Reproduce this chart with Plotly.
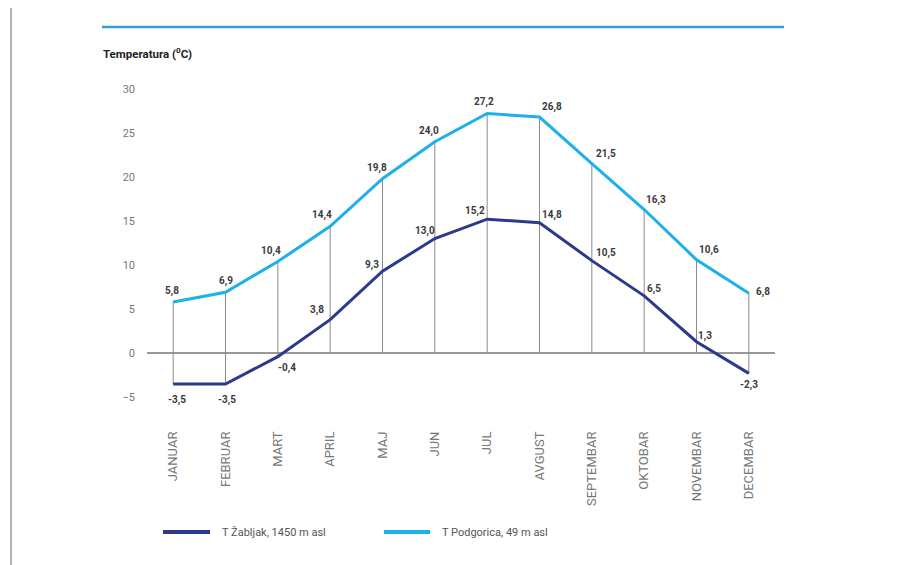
import plotly.graph_objects as go

months = ["JANUAR", "FEBRUAR", "MART", "APRIL", "MAJ", "JUN", "JUL", "AVGUST",
          "SEPTEMBAR", "OKTOBAR", "NOVEMBAR", "DECEMBAR"]
t_zabljak = [-3.5, -3.5, -0.4, 3.8, 9.3, 13.0, 15.2, 14.8, 10.5, 6.5, 1.3, -2.3]
t_podgorica = [5.8, 6.9, 10.4, 14.4, 19.8, 24.0, 27.2, 26.8, 21.5, 16.3, 10.6, 6.8]
y_ticks = [-5, 0, 5, 10, 15, 20, 25, 30]

name_zab = "T Žabljak, 1450 m asl"
name_pod = "T Podgorica, 49 m asl"

DARK = "#2B3A8C"
LIGHT = "#1DB0EA"
LBL = "#3a3a3a"
FONT = "Roboto, DejaVu Sans, sans-serif"

# page pixel -> paper coordinate helpers (plot area spans x 147..775, y 80..406 on page)
PX0, PX1, PY0, PY1 = 147, 775, 80, 406


def px(x):
    return (x - PX0) / (PX1 - PX0)


def py(y):
    return (PY1 - y) / (PY1 - PY0)


# label placement styles: (xshift, yshift, yanchor)
pod_pos = [(-1, 3, "bottom"), (0, 3, "bottom"), (-7, 3, "bottom"), (-8, 3, "bottom"),
           (-6, 3, "bottom"), (-6, 3, "bottom"), (-3, 3, "bottom"), (12, 2, "bottom"),
           (14, 2, "bottom"), (12, 2, "bottom"), (12, 2, "bottom"), (14, 1, "middle")]
zab_pos = [(4, -8, "top"), (1, -8, "top"), (9, -3, "top"), (-13, 2, "bottom"),
           (-11, -2, "bottom"), (-10, 0, "bottom"), (-12, 0, "bottom"), (12, 0, "bottom"),
           (14, 0, "bottom"), (10, -1, "bottom"), (8, -2, "bottom"), (0, -4, "top")]

fig = go.Figure()

# vertical drop lines
vx, vy = [], []
for m, p, z in zip(months, t_podgorica, t_zabljak):
    vx += [m, m, None]
    vy += [p, min(0, z), None]
fig.add_trace(go.Scatter(x=vx, y=vy, mode="lines", line=dict(color="#8a8a8a", width=1),
                         hoverinfo="skip", showlegend=False))

fig.add_trace(go.Scatter(x=months, y=t_zabljak, mode="lines", name=name_zab,
                         line=dict(color=DARK, width=3), showlegend=False))
fig.add_trace(go.Scatter(x=months, y=t_podgorica, mode="lines", name=name_pod,
                         line=dict(color=LIGHT, width=3), showlegend=False))

ann = []
for vals, pos in ((t_podgorica, pod_pos), (t_zabljak, zab_pos)):
    for m, v, (dx, dy, ya) in zip(months, vals, pos):
        ann.append(dict(x=m, y=v, xref="x", yref="y", text=f"{v:.1f}".replace(".", ","),
                        showarrow=False, xanchor="center", yanchor=ya, xshift=dx, yshift=dy,
                        font=dict(family=FONT, size=10, color=LBL, weight="bold")))

# title
ann.append(dict(x=px(101), y=py(53), xref="paper", yref="paper",
                text="Temperatura (<sup>0</sup>C)", showarrow=False, xanchor="left",
                yanchor="middle", font=dict(family=FONT, size=11.5, color="#222", weight="bold")))

# custom legend
leg_items = [(name_zab, DARK, 163, 210, 220), (name_pod, LIGHT, 384, 430, 440)]
shapes = []
for nm, col, x0, x1, xt in leg_items:
    shapes.append(dict(type="line", xref="paper", yref="paper", x0=px(x0), x1=px(x1),
                       y0=py(532), y1=py(532), line=dict(color=col, width=4)))
    ann.append(dict(x=px(xt), y=py(532), xref="paper", yref="paper", text=nm,
                    showarrow=False, xanchor="left", yanchor="middle",
                    font=dict(family=FONT, size=11, color="#555")))

# top accent line
shapes.append(dict(type="line", xref="paper", yref="paper", x0=px(102), x1=px(784),
                   y0=py(27), y1=py(27), line=dict(color="#3A9AD6", width=2.5)))
# page edges
shapes.append(dict(type="line", xref="paper", yref="paper", x0=px(11), x1=px(11),
                   y0=py(565), y1=py(7), line=dict(color="#9a9a9a", width=1.5)))
shapes.append(dict(type="line", xref="paper", yref="paper", x0=px(11), x1=px(917),
                   y0=py(7), y1=py(7), line=dict(color="#dcdcdc", width=1.5)))

fig.update_layout(
    width=909, height=557,
    margin=dict(l=139, r=142, t=72, b=159, autoexpand=False),
    paper_bgcolor="white", plot_bgcolor="white",
    annotations=ann, shapes=shapes, showlegend=False,
    xaxis=dict(type="category", range=[-0.5, 11.5], showgrid=False, showline=False,
               zeroline=False, tickangle=-90, ticklabelstandoff=22, automargin=False,
               tickfont=dict(family="Liberation Sans Narrow, Roboto, sans-serif", size=13, color="#777")),
    yaxis=dict(range=[-6, 31], tickvals=y_ticks, showgrid=False, showline=False,
               zeroline=True, zerolinecolor="#999", zerolinewidth=1.5,
               ticklabelstandoff=11, automargin=False,
               tickfont=dict(family=FONT, size=11, color="#777")),
)

fig.write_html("out.html")
